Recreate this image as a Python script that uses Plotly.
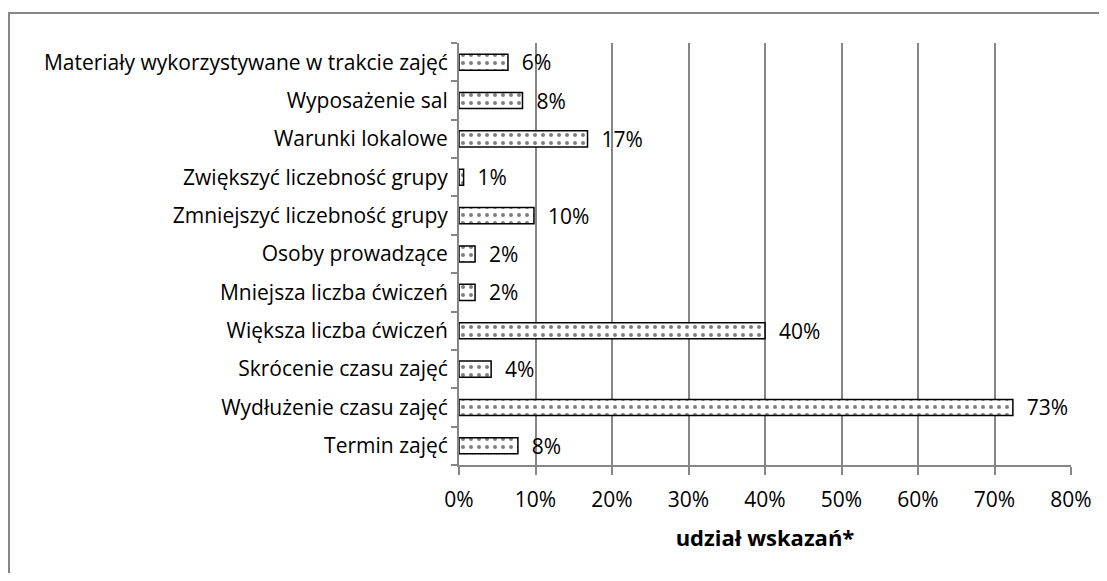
import plotly.graph_objects as go

# categories listed bottom -> top as drawn
categories = [
    "Termin zajęć",
    "Wydłużenie czasu zajęć",
    "Skrócenie czasu zajęć",
    "Większa liczba ćwiczeń",
    "Mniejsza liczba ćwiczeń",
    "Osoby prowadzące",
    "Zmniejszyć liczebność grupy",
    "Zwiększyć liczebność grupy",
    "Warunki lokalowe",
    "Wyposażenie sal",
    "Materiały wykorzystywane w trakcie zajęć",
]
shares = [7.7, 72.4, 4.2, 40.0, 2.1, 2.1, 9.8, 0.6, 16.8, 8.3, 6.4]
labels = ["8%", "73%", "4%", "40%", "2%", "2%", "10%", "1%", "17%", "8%", "6%"]
tick_vals = [0, 10, 20, 30, 40, 50, 60, 70, 80]
tick_text = ["0%", "10%", "20%", "30%", "40%", "50%", "60%", "70%", "80%"]

FONT = "Open Sans"
GRID = "#868686"
# the page body adds an 8px margin, so the figure is a bit smaller
W, H = 1091, 565
L, T = 451, 35
R, B = W - 1063, H - 457

fig = go.Figure(go.Bar(
    x=shares, y=categories, orientation="h",
    marker=dict(color="white",
                line=dict(color="black", width=1.5),
                pattern=dict(shape=".", fgcolor="black", bgcolor="white",
                             size=8, solidity=0.2)),
    text=["  " + t for t in labels], textposition="outside",
    constraintext="none",
    textfont=dict(size=21, color="black", family=FONT),
    cliponaxis=False, hoverinfo="skip",
))

# outer chart border
pw, ph = W - L - R, H - T - B
fig.add_shape(type="rect", xref="paper", yref="paper",
              x0=(1 - L) / pw, x1=(W + 40 - L) / pw,
              y0=(H - B - H - 40) / ph, y1=(H - B - 5) / ph,
              line=dict(color=GRID, width=2), layer="below")

fig.update_layout(
    width=W, height=H,
    margin=dict(l=L, r=R, t=T, b=B, autoexpand=False),
    paper_bgcolor="white", plot_bgcolor="white",
    bargap=0.58, showlegend=False,
    font=dict(family=FONT, size=21, color="black"),
    xaxis=dict(range=[0, 80], tickvals=tick_vals, ticktext=tick_text,
               showgrid=True, gridcolor=GRID, gridwidth=2,
               showline=True, linecolor=GRID, linewidth=2,
               ticks="outside", ticklen=8, tickcolor=GRID, tickwidth=2,
               ticklabelstandoff=7,
               tickfont=dict(size=21), zeroline=False,
               title=dict(text="<b>udział wskazań*</b>",
                          font=dict(size=22), standoff=18)),
    yaxis=dict(showline=True, linecolor=GRID, linewidth=2,
               ticks="outside", ticklen=6, tickcolor=GRID, tickwidth=2,
               tickson="boundaries", showgrid=False,
               ticklabelstandoff=5,
               tickfont=dict(size=21)),
)

fig.write_html("out.html")
